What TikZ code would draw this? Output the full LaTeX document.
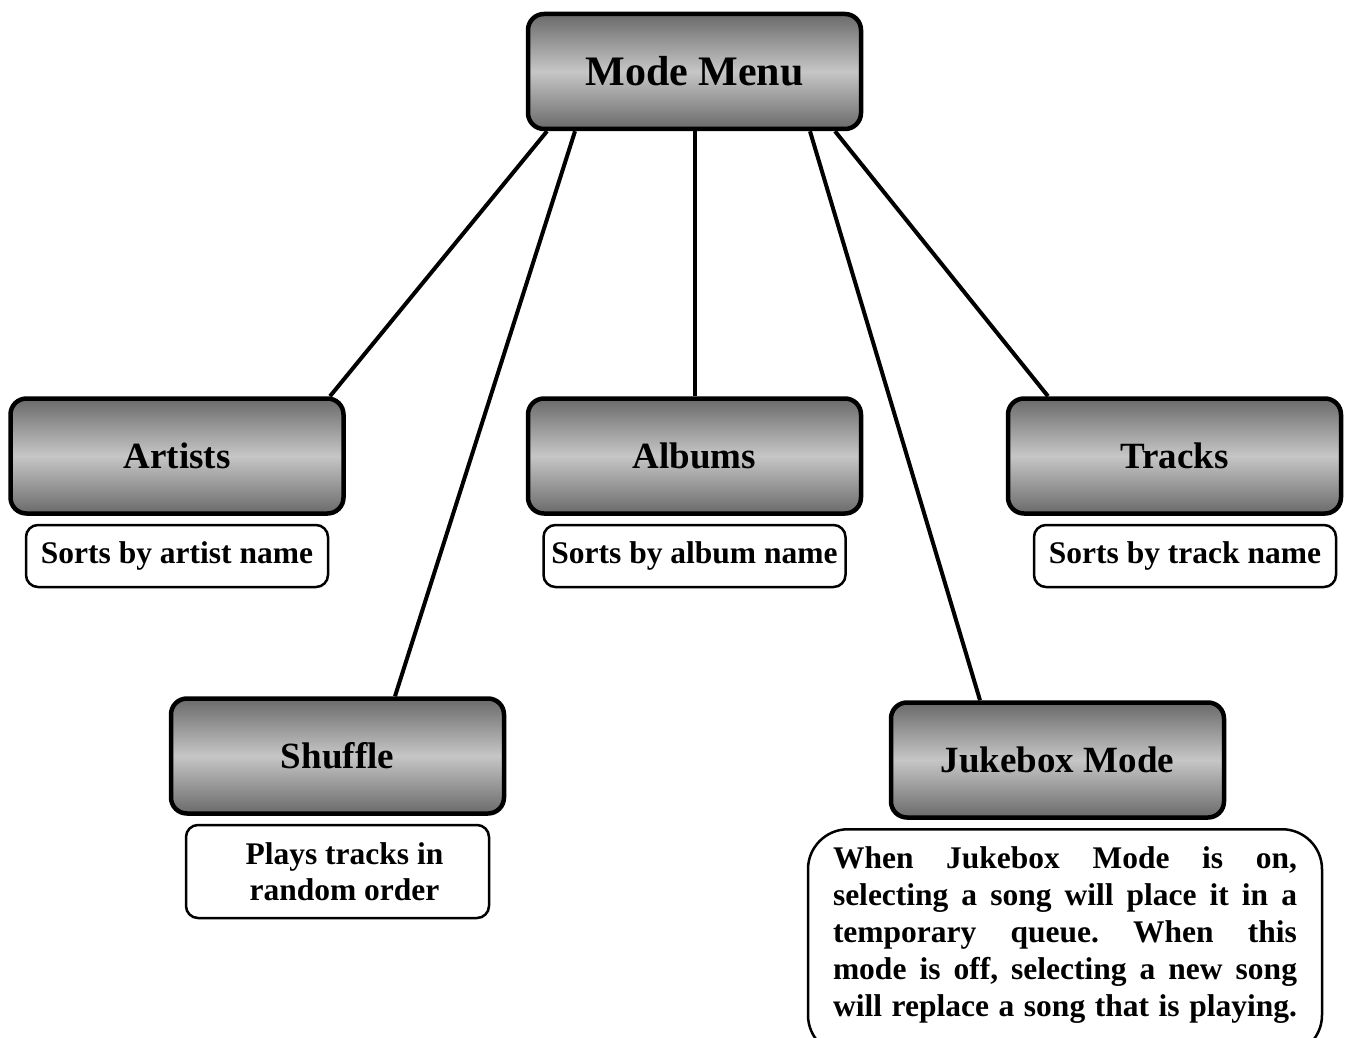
\documentclass[tikz,border=0pt]{standalone}
\usepackage{fontspec}
\setmainfont{Liberation Serif}
\definecolor{boxdark}{RGB}{106,106,106}
\definecolor{boxlight}{RGB}{198,198,198}
\tikzset{
  modebox/.style={draw, line width=4.5pt, rounded corners=16pt, top color=boxdark, bottom color=boxdark, middle color=boxlight, minimum width=333pt, minimum height=115pt, inner sep=0pt, font=\fontsize{37}{44}\selectfont\bfseries},
  notebox/.style={draw, line width=2.5pt, rounded corners=12pt, fill=white, minimum width=302pt, minimum height=62pt, inner sep=0pt, align=center, font=\fontsize{31.5}{36}\selectfont\bfseries},
  link/.style={line width=4pt}
}
\begin{document}
\begin{tikzpicture}[x=1pt, y=-1pt]
	\useasboundingbox (0, 0) rectangle (1345, 1038);

	\node[modebox, font=\fontsize{42}{50}\selectfont\bfseries] (menu) at (694.5, 71.5) {Mode Menu};
	\node[modebox] (artists) at (177, 456) {Artists};
	\node[modebox] (albums) at (694.5, 456) {Albums};
	\node[modebox] (tracks) at (1174.5, 456) {Tracks};
	\node[modebox] (shuffle) at (337.5, 756) {Shuffle};
	\node[modebox] (jukebox) at (1057.5, 760) {Jukebox Mode};

	\node[notebox] (artistsnote) at (177, 556) {Sorts by artist name};
	\node[notebox] (albumsnote) at (694.5, 556) {Sorts by album name};
	\node[notebox] (tracksnote) at (1185, 556) {Sorts by track name};
	\node[notebox, minimum width=303pt, minimum height=93pt] (shufflenote) at (337.5, 871.5) {\hspace*{14pt}Plays tracks in\\\hspace*{14pt}random order};
	\node[notebox, anchor=north, rounded corners=40pt, text width=464pt, inner xsep=25pt, inner ysep=17pt, align=justify, font=\fontsize{31.5}{37}\selectfont\bfseries] (jukeboxnote) at (1065, 828)
		{\frenchspacing\parfillskip=0pt When Jukebox Mode is on,\linebreak selecting a song will place it in a\linebreak temporary queue. When this\linebreak mode is off, selecting a new song\linebreak will replace a song that is playing.\rule[-22pt]{0pt}{22pt}\par};

	\path ([xshift=-147.5pt]menu.south) edge[link] ([xshift=153pt]artists.north)
	([xshift=-119.5pt]menu.south) edge[link] ([xshift=57.5pt]shuffle.north)
	(menu.south) edge[link] (albums.north)
	([xshift=115.5pt]menu.south) edge[link] ([xshift=-77.5pt]jukebox.north)
	([xshift=140.5pt]menu.south) edge[link] ([xshift=-126.5pt]tracks.north);
\end{tikzpicture}
\end{document}
